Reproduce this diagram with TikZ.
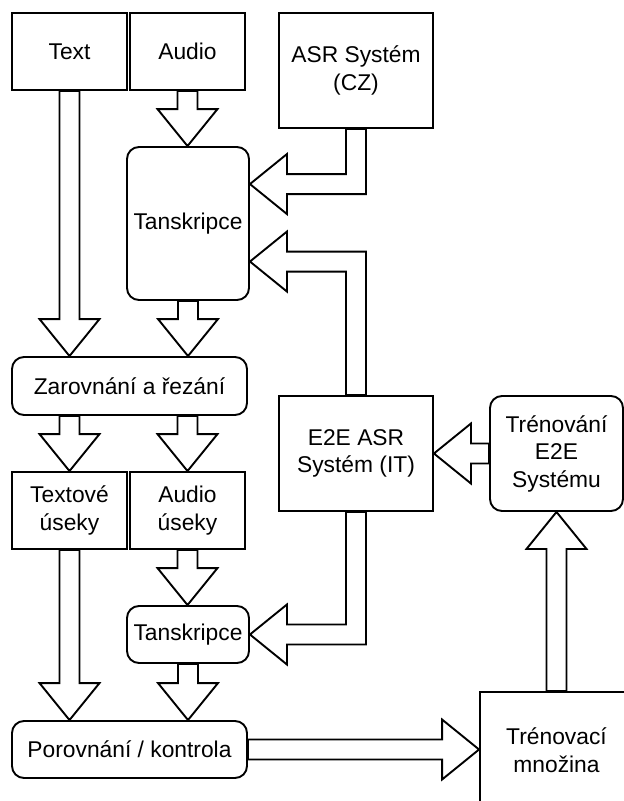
\documentclass[tikz,border=0pt]{standalone}
\usepackage{fontspec}
\setmainfont{Liberation Sans}
\usetikzlibrary{calc}

\newcommand{\fdown}[2]{\draw[flex] ($(#1.south)+(-10,0)$) -- ($(#1.south |- #2.north)+(-10,-37)$) -- ++(-20,0) -- (#1.south |- #2.north) -- ++(30,-37) -- ++(-20,0) -- ($(#1.south)+(10,0)$) -- cycle;}

\begin{document}
\begin{tikzpicture}[x=1pt,y=-1pt,
  box/.style={draw, line width=1.9pt, align=center, inner sep=2pt, font=\fontsize{22.8}{27.5}\selectfont},
  rbox/.style={box, rounded corners=12pt},
  flex/.style={draw, line width=1.9pt}]
\useasboundingbox (0,0) rectangle (624,801);
\clip (0,0) rectangle (624,801);
\node[box, minimum width=115pt, minimum height=77pt] (txt) at (69.5,51.5) {Text};
\node[box, minimum width=115pt, minimum height=77pt] (aud) at (187.5,51.5) {Audio};
\node[box, minimum width=154pt, minimum height=115pt] (asrcz) at (356,70.5) {ASR Systém\\(CZ)};
\node[rbox, minimum width=122pt, minimum height=153pt] (tr1) at (188,223.5) {Tanskripce};
\node[rbox, minimum width=235pt, minimum height=58pt] (zar) at (129.5,386) {Zarovnání a řezání};
\node[box, minimum width=115pt, minimum height=77pt] (txu) at (69.5,510.5) {Textové\\úseky};
\node[box, minimum width=115pt, minimum height=77pt] (auu) at (187.5,510.5) {Audio\\úseky};
\node[rbox, minimum width=122pt, minimum height=57pt] (tr2) at (188,634.5) {Tanskripce};
\node[rbox, minimum width=235pt, minimum height=57pt] (por) at (129.5,749.5) {Porovnání / kontrola};
\node[box, minimum width=154pt, minimum height=115pt] (e2e) at (356,453.5) {E2E ASR\\Systém (IT)};
\node[rbox, minimum width=133pt, minimum height=115pt] (trn) at (556.5,453.5) {Trénování\\E2E\\Systému};
\node[box, minimum width=153pt, minimum height=116pt] (trm) at (556.5,750) {Trénovací\\množina};
\coordinate (t1) at ($(tr1.north east)+(0,38)$);
\coordinate (t2) at ($(tr1.north east)+(0,115.5)$);

\fdown{txt}{zar}
\fdown{aud}{tr1}
\fdown{tr1}{zar}
\fdown{txu}{por}
\fdown{auu}{tr2}
\fdown{tr2}{por}
\draw[flex] ($(zar.south -| txu.north)+(-10,0)$) -- ($(txu.north)+(-10,-37)$) -- ++(-20,0) -- (txu.north) -- ++(30,-37) -- ++(-20,0) -- ($(zar.south -| txu.north)+(10,0)$) -- cycle;
\draw[flex] ($(zar.south -| auu.north)+(-10,0)$) -- ($(auu.north)+(-10,-37)$) -- ++(-20,0) -- (auu.north) -- ++(30,-37) -- ++(-20,0) -- ($(zar.south -| auu.north)+(10,0)$) -- cycle;
\draw[flex] ($(asrcz.south)+(10,0)$) |- ($(t1)+(37,10)$) -- ++(0,20) -- (t1) -- ++(37,-30) -- ++(0,20) -| ($(asrcz.south)+(-10,0)$) -- cycle;
\draw[flex] ($(e2e.north)+(10,0)$) |- ($(t2)+(37,-10)$) -- ++(0,-20) -- (t2) -- ++(37,30) -- ++(0,-20) -| ($(e2e.north)+(-10,0)$) -- cycle;
\draw[flex] ($(e2e.south)+(10,0)$) |- ($(tr2.east)+(37,10)$) -- ++(0,20) -- (tr2.east) -- ++(37,-30) -- ++(0,20) -| ($(e2e.south)+(-10,0)$) -- cycle;
\draw[flex] ($(trn.west)+(0,-10)$) -- ($(e2e.east)+(37,-10)$) -- ++(0,-20) -- (e2e.east) -- ++(37,30) -- ++(0,-20) -- ($(trn.west)+(0,10)$) -- cycle;
\draw[flex] ($(por.east)+(0,-10)$) -- ($(por.east -| trm.west)+(-37,-10)$) -- ++(0,-20) -- (por.east -| trm.west) -- ++(-37,30) -- ++(0,-20) -- ($(por.east)+(0,10)$) -- cycle;
\draw[flex] ($(trm.north)+(-10,0)$) -- ($(trn.south)+(-10,37)$) -- ++(-20,0) -- (trn.south) -- ++(30,37) -- ++(-20,0) -- ($(trm.north)+(10,0)$) -- cycle;
\end{tikzpicture}
\end{document}
